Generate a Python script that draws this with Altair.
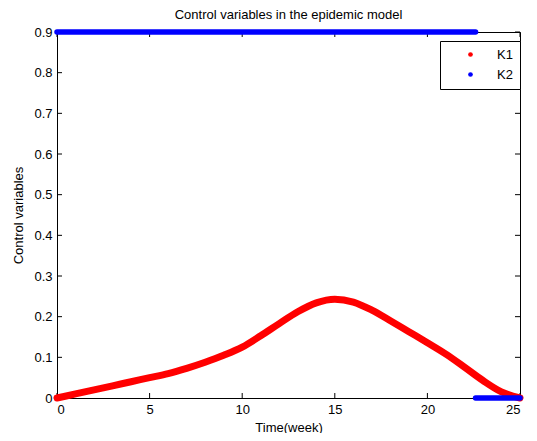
import altair as alt
import pandas as pd

# ---- data ----
weeks = list(range(26))
k1_values = [0.0, 0.01, 0.02, 0.03, 0.04, 0.05, 0.06, 0.073, 0.088, 0.105,
             0.125, 0.153, 0.183, 0.212, 0.234, 0.243, 0.236, 0.216, 0.19, 0.163,
             0.136, 0.108, 0.076, 0.043, 0.015, 0.0]
k2_on_t = [0.0, 22.6]
k2_on_v = [0.9, 0.9]
k2_off_t = [22.6, 25.0]
k2_off_v = [0.0, 0.0]
x_ticks = [0, 5, 10, 15, 20, 25]
y_ticks = [0, 0.1, 0.2, 0.3, 0.4, 0.5, 0.6, 0.7, 0.8, 0.9]
series_names = ["K1", "K2"]
series_colors = ["#ff0000", "#0000ff"]

k1_df = pd.DataFrame({"t": weeks, "v": k1_values, "series": "K1", "seg": "K1"})
k2_df = pd.DataFrame({
    "t": k2_on_t + k2_off_t,
    "v": k2_on_v + k2_off_v,
    "series": "K2",
    "seg": ["a", "a", "b", "b"],
})
all_df = pd.concat([k1_df, k2_df], ignore_index=True)

W, H = 463, 366
FONT = "Liberation Sans"

xs = alt.Scale(domain=[0, 25], nice=False, zero=False)
ys = alt.Scale(domain=[0, 0.9], nice=False, zero=False)

x_axis = alt.Axis(values=x_ticks, title="Time(week)", labelPadding=5,
                  titlePadding=5, format="d")
y_axis = alt.Axis(values=y_ticks, title="Control variables", labelPadding=5,
                  titlePadding=8,
                  labelExpr="datum.value == 0 ? '0' : format(datum.value, '.1f')")
X = alt.X("t:Q", scale=xs, axis=x_axis)
Y = alt.Y("v:Q", scale=ys, axis=y_axis)

line_color = alt.Color("series:N",
                       scale=alt.Scale(domain=series_names, range=series_colors),
                       legend=None)
legend_fill = alt.Fill(
    "series:N",
    scale=alt.Scale(domain=series_names, range=series_colors),
    legend=alt.Legend(
        title=None, orient="none", legendX=383, legendY=9,
        strokeColor="black", fillColor="white", padding=7,
        symbolType="circle", symbolSize=22, symbolStrokeWidth=0, symbolOpacity=1,
        symbolOffset=17, labelOffset=20, rowPadding=6,
        labelFont=FONT, labelFontSize=13, labelColor="black",
    ),
)

legend_layer = alt.Chart(all_df).mark_circle(opacity=0, size=1).encode(
    x=X, y=Y, fill=legend_fill)

k1_line = alt.Chart(k1_df).mark_line(
    strokeWidth=7, strokeCap="round", interpolate="monotone", clip=False
).encode(x=X, y=Y, color=line_color, detail="seg:N")

k2_line = alt.Chart(k2_df).mark_line(
    strokeWidth=5.5, strokeCap="round", clip=False
).encode(x=X, y=Y, color=line_color, detail="seg:N")

xt = pd.DataFrame({"t": x_ticks})
yt = pd.DataFrame({"v": y_ticks})
bottom_ticks = alt.Chart(xt).mark_rule(color="black", strokeWidth=1).encode(
    x=X, y=alt.value(H), y2=alt.value(H - 5))
top_ticks = alt.Chart(xt).mark_rule(color="black", strokeWidth=1).encode(
    x=X, y=alt.value(0), y2=alt.value(5))
left_ticks = alt.Chart(yt).mark_rule(color="black", strokeWidth=1).encode(
    y=Y, x=alt.value(0), x2=alt.value(5))
right_ticks = alt.Chart(yt).mark_rule(color="black", strokeWidth=1).encode(
    y=Y, x=alt.value(W), x2=alt.value(W - 5))

chart = alt.layer(
    bottom_ticks, top_ticks, left_ticks, right_ticks, legend_layer, k1_line, k2_line
).properties(
    width=W, height=H,
    background="white",
    title=alt.TitleParams(
        "Control variables in the epidemic model", font=FONT, fontSize=13,
        fontWeight="normal", color="black", offset=-1, frame="group", anchor="middle"),
    padding={"left": 49, "top": 24, "right": 9, "bottom": 35},
    autosize=alt.AutoSizeParams(type="none"),
).configure_view(
    stroke="black", strokeWidth=1
).configure_axis(
    grid=False, ticks=False, domain=False,
    labelFont=FONT, labelFontSize=13, labelColor="black",
    titleFont=FONT, titleFontSize=13, titleFontWeight="normal", titleColor="black",
)

chart.save("out.html", embed_options={"renderer": "svg", "actions": False})
